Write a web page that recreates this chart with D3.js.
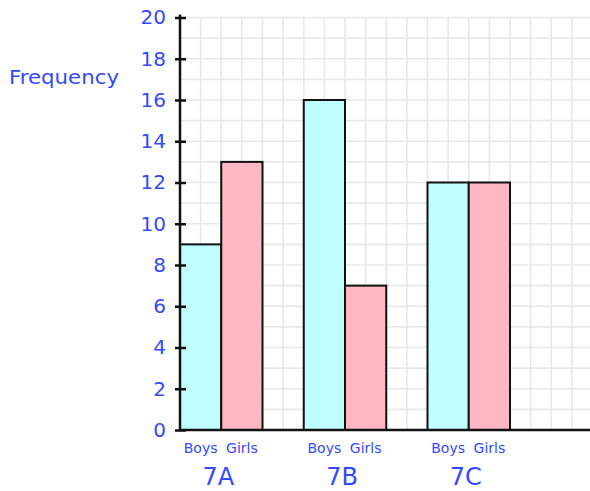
<!DOCTYPE html>
<html>
<head>
<meta charset="utf-8">
<script src="https://cdn.jsdelivr.net/npm/d3@7"></script>
<style>
  html, body { margin: 0; padding: 0; background: #ffffff; }
  svg { display: block; }
</style>
</head>
<body>
<div id="chart"></div>
<script>
// ---- data ----
const classes = ["7A", "7B", "7C"];
const genders = ["Boys", "Girls"];
const boys = [9, 16, 12];
const girls = [13, 7, 12];
const yTicks = [0, 2, 4, 6, 8, 10, 12, 14, 16, 18, 20];
const yLabel = "Frequency";

// ---- layout ----
const W = 590, H = 491;
const x0 = 180, y0 = 430, yTop = 17.5;
const unit = (y0 - yTop) / 20;       // one grid cell
const xRight = 590;

const svg = d3.select("#chart").append("svg").attr("width", W).attr("height", H);
const blue = "#3349ff";
const font = "'Comic Sans MS', 'DejaVu Sans', sans-serif";

const y = d3.scaleLinear().domain([0, 20]).range([y0, yTop]);
const xg = d3.scaleBand().domain(classes)
  .range([x0, x0 + 16 * unit]).paddingInner(1 / 3).paddingOuter(0).align(0);
const xs = d3.scaleBand().domain(genders).range([0, xg.bandwidth()]).padding(0);

// ---- grid ----
const grid = svg.append("g").attr("stroke", "#e8e8e8").attr("stroke-width", 1.6);
const nV = Math.floor((xRight - x0) / unit);
grid.selectAll("line.v").data(d3.range(1, nV + 1)).join("line")
  .attr("class", "v")
  .attr("x1", d => x0 + d * unit).attr("x2", d => x0 + d * unit)
  .attr("y1", yTop).attr("y2", y0);
grid.selectAll("line.h").data(d3.range(1, 21)).join("line")
  .attr("class", "h")
  .attr("x1", x0).attr("x2", xRight)
  .attr("y1", d => y(d)).attr("y2", d => y(d));

// ---- bars ----
const rows = classes.map((c, i) => ({ cls: c, vals: [{ g: "Boys", v: boys[i] }, { g: "Girls", v: girls[i] }] }));
const color = d3.scaleOrdinal().domain(genders).range(["#c0ffff", "#ffb7c3"]);

const groups = svg.append("g").selectAll("g").data(rows).join("g")
  .attr("transform", d => `translate(${xg(d.cls)},0)`);
groups.selectAll("rect").data(d => d.vals).join("rect")
  .attr("x", d => xs(d.g))
  .attr("width", xs.bandwidth())
  .attr("y", d => y(d.v))
  .attr("height", d => y(0) - y(d.v))
  .attr("fill", d => color(d.g))
  .attr("stroke", "#111")
  .attr("stroke-width", 2);

// gender labels
groups.selectAll("text.g").data(d => d.vals).join("text")
  .attr("class", "g")
  .attr("x", d => xs(d.g) + xs.bandwidth() / 2)
  .attr("y", 453)
  .attr("text-anchor", "middle")
  .attr("fill", blue)
  .attr("font-family", font)
  .attr("font-size", 14)
  .text(d => d.g);

// class labels
groups.append("text")
  .attr("x", xg.bandwidth() / 2 - 3)
  .attr("y", 485)
  .attr("text-anchor", "middle")
  .attr("fill", blue)
  .attr("font-family", font)
  .attr("font-size", 24)
  .text(d => d.cls);

// ---- axes ----
const yAxis = d3.axisLeft(y).tickValues(yTicks).tickSize(5).tickPadding(9);
const ya = svg.append("g").attr("transform", `translate(${x0},0)`).call(yAxis);
ya.select(".domain").remove();
ya.selectAll(".tick line").attr("x1", 6).attr("x2", -5).attr("stroke", "#111").attr("stroke-width", 2.5);
ya.selectAll(".tick text")
  .attr("fill", blue)
  .attr("font-family", font)
  .attr("font-size", 20);

svg.append("line")
  .attr("x1", x0).attr("x2", x0)
  .attr("y1", yTop - 3).attr("y2", y0 + 1)
  .attr("stroke", "#111").attr("stroke-width", 2.5);
svg.append("line")
  .attr("x1", x0 - 1).attr("x2", xRight)
  .attr("y1", y0).attr("y2", y0)
  .attr("stroke", "#111").attr("stroke-width", 2.5);

// y label
svg.append("text")
  .attr("x", 9).attr("y", 84)
  .attr("fill", blue)
  .attr("font-family", font)
  .attr("font-size", 19)
  .attr("textLength", 110)
  .attr("lengthAdjust", "spacingAndGlyphs")
  .text(yLabel);
</script>
</body>
</html>
